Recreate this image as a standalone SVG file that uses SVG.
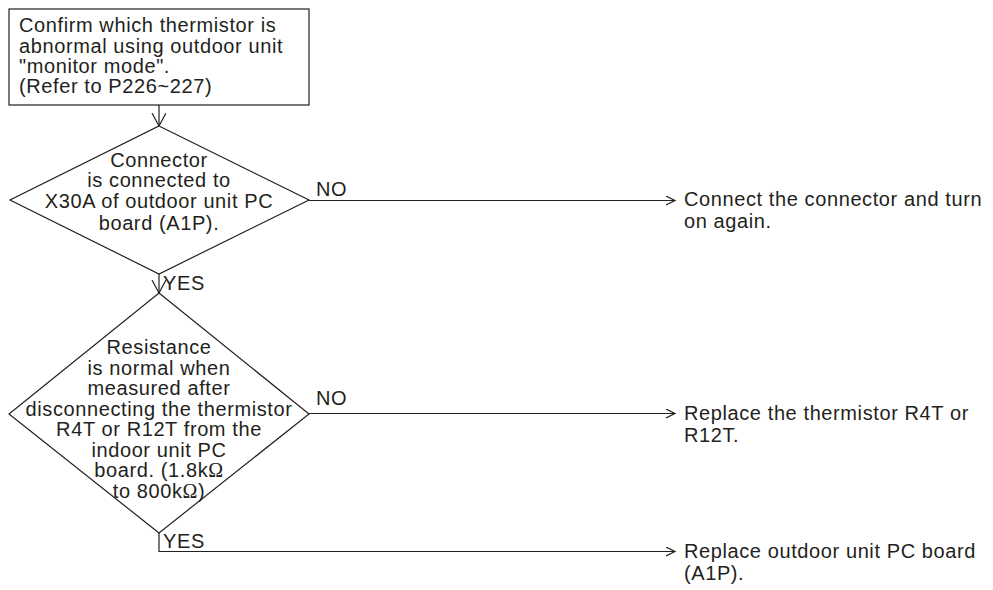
<svg xmlns="http://www.w3.org/2000/svg" width="993" height="590" viewBox="0 0 993 590">
<style>
text{font-family:"Liberation Sans",Arial,sans-serif;font-size:20px;letter-spacing:0.6px;fill:#231f20}
.c{text-anchor:middle}
.shape{fill:#fff;stroke:#231f20;stroke-width:1.2}
.ln{fill:none;stroke:#231f20;stroke-width:1.2}
.om{font-family:"Liberation Serif","Times New Roman",serif}
</style>
<defs>
<marker id="av" markerWidth="16" markerHeight="16" refX="13" refY="7" orient="auto" markerUnits="userSpaceOnUse">
<path d="M0,0 L13,7 L0,14" fill="none" stroke="#231f20" stroke-width="1.2"/>
</marker>
<marker id="ah" markerWidth="12" markerHeight="12" refX="9" refY="5" orient="auto" markerUnits="userSpaceOnUse">
<path d="M0,0.5 L9,5 L0,9.5" fill="none" stroke="#231f20" stroke-width="1.2"/>
</marker>
</defs>
<rect width="993" height="590" fill="#fff"/>
<g id="connectors">
<line class="ln" x1="159" y1="105" x2="159" y2="126" marker-end="url(#av)"/>
<line class="ln" x1="159" y1="274" x2="159" y2="293" marker-end="url(#av)"/>
<line class="ln" x1="309" y1="200.5" x2="675" y2="200.5" marker-end="url(#ah)"/>
<line class="ln" x1="309" y1="413.5" x2="675" y2="413.5" marker-end="url(#ah)"/>
<polyline class="ln" points="159,533 159,551.5 675,551.5" marker-end="url(#ah)"/>
<text x="316" y="196">NO</text>
<text x="163" y="290">YES</text>
<text x="316" y="405">NO</text>
<text x="163" y="548">YES</text>
</g>
<g id="start">
<rect class="shape" x="9" y="9" width="300" height="96"/>
<text x="19" y="32">Confirm which thermistor is</text>
<text x="19" y="52.5">abnormal using outdoor unit</text>
<text x="19" y="73">"monitor mode".</text>
<text x="19" y="93">(Refer to P226~227)</text>
</g>
<g id="decision1">
<polygon class="shape" points="159,126 309,200 159,274 10,200"/>
<text class="c" x="159" y="166.5">Connector</text>
<text class="c" x="159" y="187">is connected to</text>
<text class="c" x="159" y="208">X30A of outdoor unit PC</text>
<text class="c" x="159" y="229.5">board (A1P).</text>
</g>
<g id="decision2">
<polygon class="shape" points="159,293 309,414 159,533 9,414"/>
<text class="c" x="159" y="354">Resistance</text>
<text class="c" x="159" y="374.5">is normal when</text>
<text class="c" x="159" y="395">measured after</text>
<text class="c" x="159" y="415.5">disconnecting the thermistor</text>
<text class="c" x="159" y="436">R4T or R12T from the</text>
<text class="c" x="159" y="456.5">indoor unit PC</text>
<text class="c" x="159" y="477">board. (1.8k<tspan class="om">Ω</tspan></text>
<text class="c" x="159" y="497.5">to 800k<tspan class="om">Ω</tspan>)</text>
</g>
<g id="action1">
<text x="684" y="206">Connect the connector and turn</text>
<text x="684" y="228">on again.</text>
</g>
<g id="action2">
<text x="684" y="420">Replace the thermistor R4T or</text>
<text x="684" y="442">R12T.</text>
</g>
<g id="action3">
<text x="684" y="558">Replace outdoor unit PC board</text>
<text x="684" y="580">(A1P).</text>
</g>
</svg>
